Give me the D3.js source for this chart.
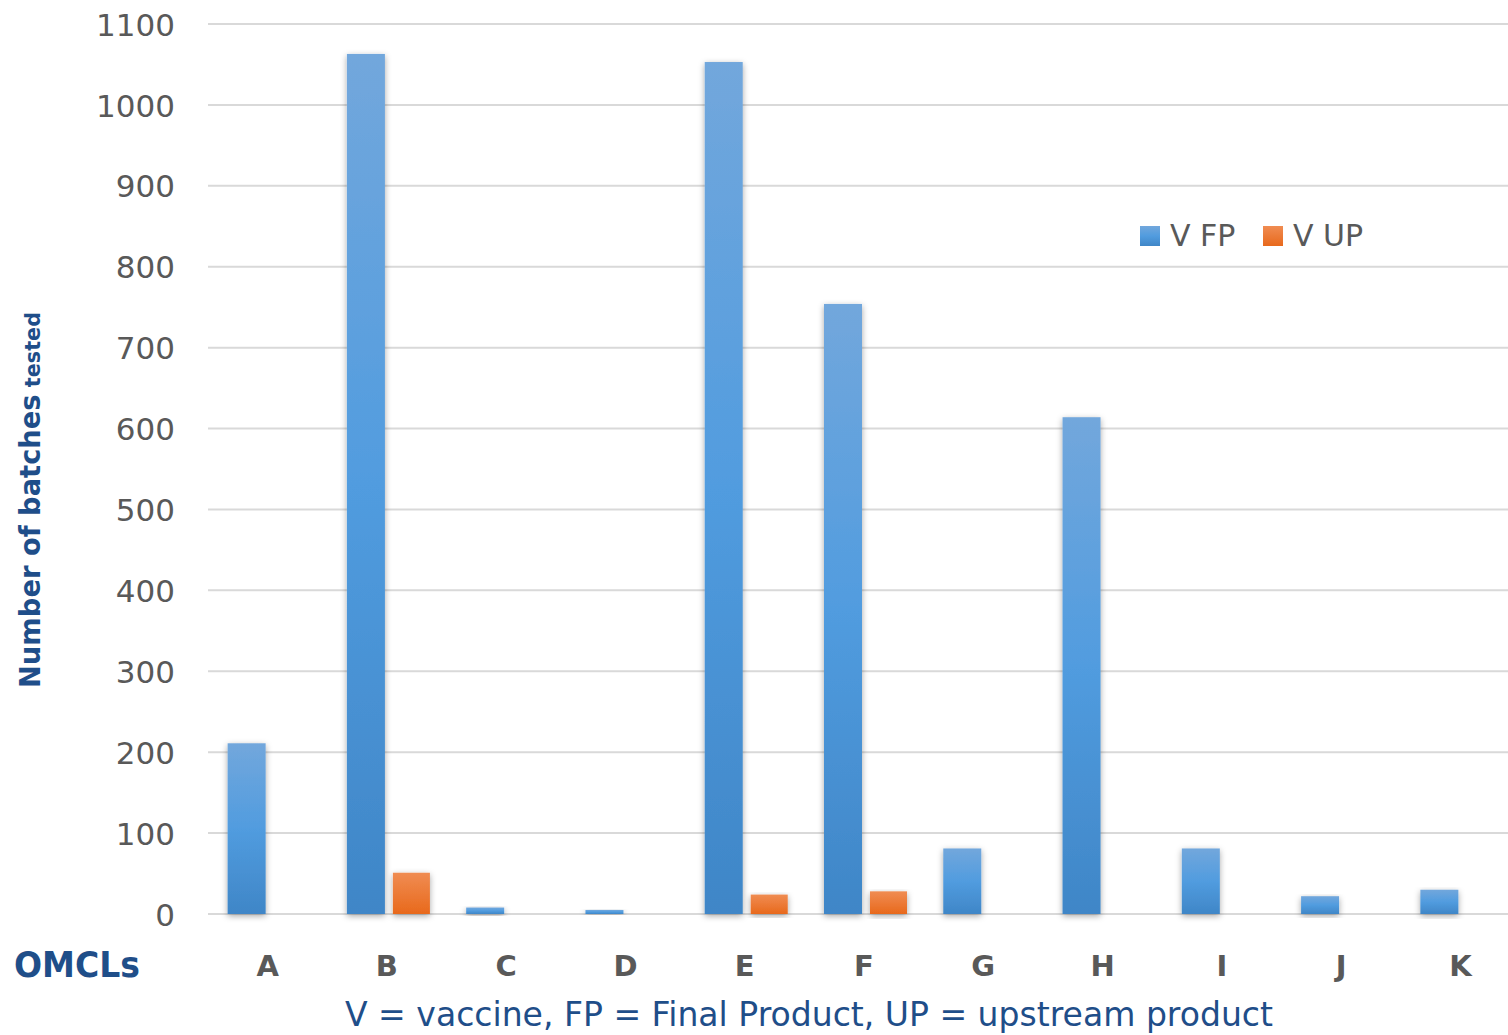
<!DOCTYPE html>
<html><head><meta charset="utf-8">
<script src="https://cdn.jsdelivr.net/npm/d3@7"></script>
<style>
html,body{margin:0;padding:0;background:#fff;overflow:hidden}
text{font-family:"DejaVu Sans",Verdana,sans-serif}
</style></head>
<body>
<svg id="chart" width="1508" height="1035"></svg>
<script>
const categories = ["A","B","C","D","E","F","G","H","I","J","K"];
const seriesNames = ["V FP","V UP"];
const vFP = [211, 1063, 8, 5, 1053, 754, 81, 614, 81, 22, 30];
const vUP = [0, 51, 0, 0, 24, 28, 0, 0, 0, 0, 0];
const yTicks = [0,100,200,300,400,500,600,700,800,900,1000,1100];

const svg = d3.select("#chart");
const W = 1508, H = 1035;
const x = d3.scaleBand().domain(categories).range([208, 1520]).padding(0);
const y = d3.scaleLinear().domain([0, 1100]).range([914, 24]);

const defs = svg.append("defs");
const gb = defs.append("linearGradient").attr("id","gBlue").attr("x1",0).attr("y1",0).attr("x2",0).attr("y2",1);
gb.append("stop").attr("offset","0%").attr("stop-color","#72a7dc");
gb.append("stop").attr("offset","50%").attr("stop-color","#519cdf");
gb.append("stop").attr("offset","100%").attr("stop-color","#3f86c7");
const go = defs.append("linearGradient").attr("id","gOrange").attr("x1",0).attr("y1",0).attr("x2",0).attr("y2",1);
go.append("stop").attr("offset","0%").attr("stop-color","#f08c52");
go.append("stop").attr("offset","100%").attr("stop-color","#e8691c");
const f = defs.append("filter").attr("id","shadow").attr("x","-30%").attr("y","-10%").attr("width","160%").attr("height","130%");
f.append("feDropShadow").attr("dx",0).attr("dy",2).attr("stdDeviation",3).attr("flood-color","#000").attr("flood-opacity",0.35);

// gridlines
svg.append("g").selectAll("line").data(yTicks).join("line")
  .attr("x1",208).attr("x2",W).attr("y1",d=>y(d)).attr("y2",d=>y(d))
  .attr("stroke","#d9d9d9").attr("stroke-width",2);

// y axis labels
const yAxis = d3.axisLeft(y).tickValues(yTicks).tickFormat(d3.format("d")).tickSize(0).tickPadding(0);
const yg = svg.append("g").attr("transform","translate(175,0)").call(yAxis);
yg.select(".domain").remove();
yg.selectAll("text").attr("fill","#595959").style("font-size","31px").style("font-family","'DejaVu Sans',Verdana,sans-serif").attr("dy","0.36em");

// bars
const bw = 38;
const data = categories.map((c,i)=>({c, fp:vFP[i], up:vUP[i]}));
const bars = svg.append("g");
bars.selectAll("rect.fp").data(data).join("rect").attr("class","fp")
  .attr("x",d=>x(d.c)+x.bandwidth()/2-40).attr("width",bw)
  .attr("y",d=>y(d.fp)).attr("height",d=>y(0)-y(d.fp))
  .attr("fill","url(#gBlue)").attr("filter","url(#shadow)");
bars.selectAll("rect.up").data(data.filter(d=>d.up>0)).join("rect").attr("class","up")
  .attr("x",d=>x(d.c)+x.bandwidth()/2+6).attr("width",bw-1)
  .attr("y",d=>y(d.up)).attr("height",d=>y(0)-y(d.up))
  .attr("fill","url(#gOrange)").attr("filter","url(#shadow)");

// x axis labels
const xAxis = d3.axisBottom(x).tickSize(0).tickPadding(0);
const xg = svg.append("g").attr("transform","translate(0,976)").call(xAxis);
xg.select(".domain").remove();
xg.selectAll("text").attr("fill","#595959").attr("dy",0).style("font-size","29px").style("font-weight","bold").style("font-family","'DejaVu Sans',Verdana,sans-serif");

// OMCLs
svg.append("text").attr("x",14).attr("y",977).text("OMCLs")
  .attr("fill","#1f4e89").style("font-size","36px").style("font-weight","bold")
  .attr("textLength",126).attr("lengthAdjust","spacingAndGlyphs");

// bottom note
svg.append("text").attr("x",809).attr("y",1026).attr("text-anchor","middle")
  .text("V = vaccine, FP = Final Product, UP = upstream product")
  .attr("fill","#1f4e89").style("font-size","33px")
  .attr("textLength",928).attr("lengthAdjust","spacingAndGlyphs");

// y title
const yt = svg.append("text").attr("transform","translate(40,688) rotate(-90)")
  .attr("fill","#1f4e89").style("font-weight","bold");
yt.append("tspan").style("font-size","29px").text("Number of batches");
yt.append("tspan").style("font-size","22px").text(" tested");
yt.attr("textLength",376).attr("lengthAdjust","spacingAndGlyphs");

// legend
const legend = svg.append("g");
const lx = [1140, 1263];
const fills = ["url(#gBlue)","url(#gOrange)"];
seriesNames.forEach((s,i)=>{
  legend.append("rect").attr("x",lx[i]).attr("y",226).attr("width",20).attr("height",20).attr("fill",fills[i]);
  legend.append("text").attr("x",lx[i]+30).attr("y",246).text(s)
    .attr("fill","#595959").style("font-size","30px");
});
</script>
</body></html>
